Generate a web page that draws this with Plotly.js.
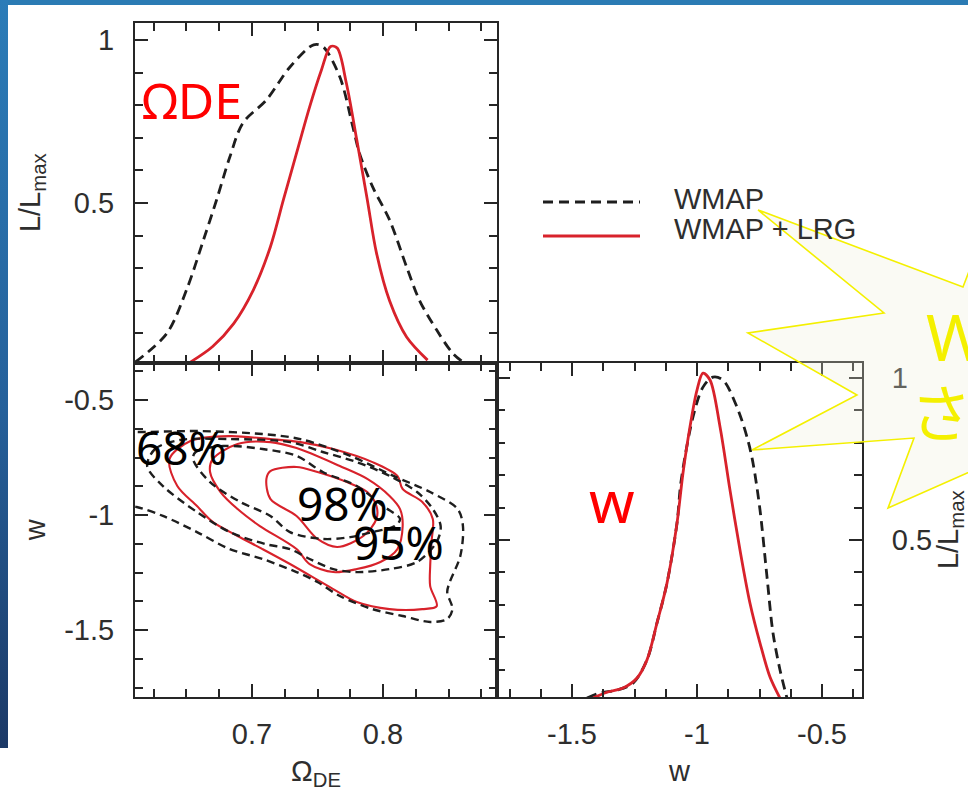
<!DOCTYPE html>
<html>
<head>
<meta charset="utf-8">
<script src="https://cdn.plot.ly/plotly-3.0.1.min.js"></script>
<style>
  html, body { margin:0; padding:0; background:#ffffff; }
  #wrap { position:relative; width:968px; height:796px; overflow:hidden; background:#ffffff; }
  #topbar { position:absolute; left:0; top:0; width:968px; height:5px; background:#2b7bb4; }
  #leftbar { position:absolute; left:0; top:0; width:8px; height:748px;
             background:linear-gradient(to bottom, #2b7cb8 0%, #25609a 55%, #1c3966 100%); }
  #chart { position:absolute; left:0; top:0; width:968px; height:796px; }
</style>
</head>
<body>
<div id="wrap">
  <div id="topbar"></div>
  <div id="leftbar"></div>
  <div id="chart"></div>
</div>
<script>
// ---------- data ----------
// marginal likelihood of Omega_DE
const omegaWMAP_x = [0.611, 0.635, 0.650, 0.663, 0.673, 0.683, 0.693, 0.711, 0.729, 0.747, 0.754, 0.767, 0.777, 0.782, 0.792, 0.805, 0.818, 0.828, 0.841, 0.853, 0.861];
const omegaWMAP_L = [0.012, 0.100, 0.233, 0.387, 0.510, 0.640, 0.745, 0.816, 0.917, 0.985, 0.980, 0.887, 0.733, 0.653, 0.550, 0.448, 0.304, 0.200, 0.110, 0.040, 0.012];
const omegaLRG_x  = [0.653, 0.670, 0.686, 0.701, 0.714, 0.724, 0.734, 0.744, 0.753, 0.760, 0.765, 0.772, 0.780, 0.788, 0.795, 0.805, 0.818, 0.834];
const omegaLRG_L  = [0.012, 0.060, 0.130, 0.233, 0.365, 0.510, 0.653, 0.795, 0.908, 0.980, 0.975, 0.868, 0.693, 0.510, 0.347, 0.200, 0.089, 0.018];

// marginal likelihood of w
const wWMAP_x = [-1.440, -1.388, -1.320, -1.256, -1.200, -1.160, -1.120, -1.080, -1.064, -1.016, -0.976, -0.936, -0.896, -0.840, -0.800, -0.776, -0.748, -0.720, -0.696, -0.668, -0.640];
const wWMAP_L = [0.012, 0.028, 0.037, 0.058, 0.130, 0.244, 0.367, 0.552, 0.680, 0.880, 0.972, 1.003, 0.994, 0.910, 0.818, 0.738, 0.593, 0.386, 0.213, 0.099, 0.012];
const wLRG_x  = [-1.416, -1.360, -1.296, -1.240, -1.200, -1.160, -1.120, -1.080, -1.056, -1.028, -1.000, -0.976, -0.948, -0.908, -0.868, -0.828, -0.788, -0.748, -0.708, -0.668];
const wLRG_L  = [0.012, 0.030, 0.043, 0.074, 0.130, 0.244, 0.367, 0.552, 0.707, 0.850, 0.963, 1.015, 0.994, 0.850, 0.654, 0.469, 0.305, 0.182, 0.077, 0.012];

// 2-D contours in the (Omega_DE, w) plane, WMAP (dashed)
const wmapOuter_om = [0.603, 0.612, 0.658, 0.708, 0.737, 0.775, 0.808, 0.836, 0.857, 0.861, 0.859, 0.851, 0.849, 0.853, 0.849, 0.836, 0.815, 0.792, 0.767, 0.750, 0.734, 0.708, 0.683, 0.658, 0.632, 0.612, 0.603];
const wmapOuter_w  = [-0.635, -0.639, -0.635, -0.648, -0.670, -0.743, -0.830, -0.900, -0.974, -1.048, -1.178, -1.291, -1.335, -1.409, -1.452, -1.465, -1.439, -1.409, -1.352, -1.291, -1.248, -1.191, -1.148, -1.074, -1.004, -0.965, -0.957];
const wmapMid_om = [0.620, 0.626, 0.645, 0.683, 0.729, 0.754, 0.780, 0.805, 0.826, 0.838, 0.844, 0.841, 0.826, 0.805, 0.780, 0.762, 0.744, 0.729, 0.710, 0.683, 0.658, 0.632, 0.620];
const wmapMid_w  = [-0.787, -0.713, -0.674, -0.670, -0.683, -0.726, -0.770, -0.830, -0.900, -0.974, -1.048, -1.117, -1.204, -1.235, -1.248, -1.235, -1.191, -1.148, -1.126, -1.074, -0.987, -0.874, -0.787];
const wmapIn_om = [0.655, 0.657, 0.678, 0.708, 0.734, 0.754, 0.780, 0.800, 0.813, 0.809, 0.792, 0.775, 0.754, 0.729, 0.714, 0.691, 0.668, 0.655];
const wmapIn_w  = [-0.757, -0.726, -0.700, -0.713, -0.743, -0.813, -0.874, -0.961, -1.017, -1.048, -1.074, -1.096, -1.104, -1.074, -1.004, -0.943, -0.857, -0.757];

// 2-D contours, WMAP + LRG (solid)
const lrgOuter_om = [0.637, 0.653, 0.683, 0.714, 0.737, 0.762, 0.792, 0.811, 0.815, 0.830, 0.838, 0.837, 0.836, 0.836, 0.841, 0.830, 0.805, 0.780, 0.762, 0.729, 0.708, 0.689, 0.670, 0.658, 0.643, 0.637];
const lrgOuter_w  = [-0.757, -0.678, -0.657, -0.670, -0.683, -0.713, -0.770, -0.830, -0.887, -0.943, -1.017, -1.117, -1.222, -1.309, -1.396, -1.409, -1.409, -1.378, -1.322, -1.213, -1.148, -1.091, -1.030, -0.961, -0.874, -0.757];
const lrgMid_om = [0.668, 0.670, 0.689, 0.714, 0.734, 0.767, 0.788, 0.805, 0.813, 0.815, 0.811, 0.798, 0.780, 0.762, 0.744, 0.734, 0.706, 0.689, 0.676, 0.668];
const lrgMid_w  = [-0.813, -0.757, -0.691, -0.683, -0.709, -0.787, -0.843, -0.917, -0.974, -1.048, -1.148, -1.204, -1.235, -1.248, -1.213, -1.148, -1.048, -0.974, -0.900, -0.813];
const lrgIn_om = [0.711, 0.714, 0.734, 0.750, 0.7725, 0.788, 0.795, 0.795, 0.785, 0.765, 0.750, 0.734, 0.714, 0.711];
const lrgIn_w  = [-0.843, -0.809, -0.791, -0.813, -0.857, -0.900, -0.961, -1.017, -1.091, -1.139, -1.104, -1.004, -0.930, -0.843];

// tick labels and tick positions
const omegaTicks = [0.7, 0.8];
const omegaTickText = ['0.7', '0.8'];
const omegaMinor = [0.625, 0.65, 0.675, 0.725, 0.75, 0.775, 0.825, 0.85, 0.875];
const wTicks = [-1.5, -1, -0.5];
const wTickText = ['-1.5', '-1', '-0.5'];
const wMinor = [-1.75, -1.625, -1.375, -1.25, -1.125, -0.875, -0.75, -0.625, -0.375];
const likeTicks = [0.5, 1];
const likeTickText = ['0.5', '1'];
const likeMinor = [0.1, 0.2, 0.3, 0.4, 0.6, 0.7, 0.8, 0.9];

const seriesNames = ['WMAP', 'WMAP + LRG'];
const contourLabels = ['68%', '98%', '95%'];

// ---------- styles ----------
const RED = '#d8222b';
const BLACK = '#1e1e1e';
const dashBig = '10px,6px';
const dashSmall = '8px,5px';
const FONT = 'Liberation Sans, Arial, sans-serif';
const TXT = '#2e2e2e';
const AX = '#262626';

function marg(x, y, xa, ya, name, dashed) {
  return { x: x, y: y, xaxis: xa, yaxis: ya, name: name, type: 'scatter', mode: 'lines',
    line: { color: dashed ? BLACK : RED, width: 2.8, dash: dashed ? dashBig : 'solid', shape: 'spline', smoothing: 0.9 },
    hoverinfo: 'skip', showlegend: false };
}
function cont(x, y, name, dashed) {
  return { x: x, y: y, xaxis: 'x2', yaxis: 'y2', name: name, type: 'scatter', mode: 'lines',
    line: { color: dashed ? BLACK : RED, width: dashed ? 2.4 : 2.1, dash: dashed ? dashSmall : 'solid', shape: 'spline', smoothing: 0.9 },
    hoverinfo: 'skip', showlegend: false };
}

const traces = [
  marg(omegaWMAP_x, omegaWMAP_L, 'x', 'y', seriesNames[0], true),
  marg(omegaLRG_x, omegaLRG_L, 'x', 'y', seriesNames[1], false),
  marg(wWMAP_x, wWMAP_L, 'x3', 'y3', seriesNames[0], true),
  marg(wLRG_x, wLRG_L, 'x3', 'y3', seriesNames[1], false),
  cont(lrgOuter_om, lrgOuter_w, seriesNames[1], false),
  cont(lrgMid_om, lrgMid_w, seriesNames[1], false),
  cont(lrgIn_om, lrgIn_w, seriesNames[1], false),
  cont(wmapOuter_om, wmapOuter_w, seriesNames[0], true),
  cont(wmapMid_om, wmapMid_w, seriesNames[0], true),
  cont(wmapIn_om, wmapIn_w, seriesNames[0], true)
];

const W = 968, H = 796;
const px = v => v / W;
const py = v => 1 - v / H;

function axis(extra) {
  return Object.assign({
    showline: true, linecolor: AX, linewidth: 2, mirror: 'allticks',
    ticks: 'inside', ticklen: 13, tickwidth: 2, tickcolor: AX,
    showgrid: false, zeroline: false, fixedrange: true,
    tickfont: { family: FONT, size: 29, color: TXT }
  }, extra);
}
const minorTicks = vals => ({ tickmode: 'array', tickvals: vals, ticks: 'inside', ticklen: 8, tickwidth: 2, tickcolor: AX, showgrid: false });
const ttl = (text, standoff) => ({ text: text, standoff: standoff, font: { size: 29, family: FONT, color: TXT } });

const domL = [px(135), px(497)], domR = [px(497), px(862)];
const domTop = [py(362.5), py(23)], domBot = [py(697), py(362.5)];
const rOmega = [0.6107, 0.887], rW = [-1.8, -0.34], rW2 = [-1.791, -0.337];
const rLikeTop = [0.0107, 1.052], rLikeBot = [0.0154, 1.048];

const layout = {
  width: W, height: H,
  margin: { l: 0, r: 0, t: 0, b: 0, pad: 0 },
  paper_bgcolor: 'rgba(0,0,0,0)', plot_bgcolor: 'rgba(0,0,0,0)',
  showlegend: false,
  font: { family: FONT, size: 29, color: TXT },
  xaxis: axis({ domain: domL, anchor: 'y', range: rOmega,
    tickmode: 'array', tickvals: omegaTicks, ticktext: omegaTickText, showticklabels: false, minor: minorTicks(omegaMinor) }),
  yaxis: axis({ domain: domTop, anchor: 'x', range: rLikeTop,
    tickmode: 'array', tickvals: likeTicks, ticktext: likeTickText, ticklabelstandoff: 13, minor: minorTicks(likeMinor),
    title: ttl('L/L<sub>max</sub>', 25) }),
  xaxis2: axis({ domain: domL, anchor: 'y2', range: rOmega,
    tickmode: 'array', tickvals: omegaTicks, ticktext: omegaTickText, ticklabelstandoff: 10, minor: minorTicks(omegaMinor),
    title: ttl('Ω<sub>DE</sub>', 12) }),
  yaxis2: axis({ domain: domBot, anchor: 'x2', range: rW2,
    tickmode: 'array', tickvals: wTicks, ticktext: wTickText, ticklabelstandoff: 13, minor: minorTicks(wMinor),
    title: ttl('w', 10) }),
  xaxis3: axis({ domain: domR, anchor: 'y3', range: rW,
    tickmode: 'array', tickvals: wTicks, ticktext: wTickText, ticklabelstandoff: 10, minor: minorTicks(wMinor),
    title: ttl('w', 12) }),
  yaxis3: axis({ domain: domBot, anchor: 'x3', side: 'right', range: rLikeBot,
    tickmode: 'array', tickvals: likeTicks, ticktext: likeTickText, ticklabelstandoff: 22, minor: minorTicks(likeMinor),
    title: ttl('L/L<sub>max</sub>', 14) }),
  shapes: [
    // legend keys
    { type: 'line', xref: 'paper', yref: 'paper', x0: px(543), x1: px(640), y0: py(202), y1: py(202),
      line: { color: BLACK, width: 2.8, dash: dashBig } },
    { type: 'line', xref: 'paper', yref: 'paper', x0: px(543), x1: px(640), y0: py(236), y1: py(236),
      line: { color: RED, width: 2.8 } },
    // yellow call-out star
    { type: 'path', xref: 'paper', yref: 'paper', layer: 'above',
      path: 'M ' + [[990,240],[975,256],[963,287],[758,210],[884,313],[748,333],[857,395],[752,450],[914,438],[888,508],[990,463]]
              .map(p => px(p[0]).toFixed(4) + ',' + py(p[1]).toFixed(4)).join(' L ') + ' Z',
      fillcolor: 'rgba(238,238,215,0.28)', line: { color: '#f4f000', width: 1.6 } }
  ],
  annotations: [
    { xref: 'paper', yref: 'paper', x: px(672), y: py(199), xanchor: 'left', yanchor: 'middle', showarrow: false,
      text: seriesNames[0], font: { size: 29, color: TXT, family: FONT } },
    { xref: 'paper', yref: 'paper', x: px(672), y: py(229), xanchor: 'left', yanchor: 'middle', showarrow: false,
      text: seriesNames[1], font: { size: 29, color: TXT, family: FONT } },
    // red slide labels
    { xref: 'paper', yref: 'paper', x: px(140), y: py(100), xanchor: 'left', yanchor: 'middle', showarrow: false,
      text: 'ΩDE', font: { size: 50, color: '#ff0000', family: 'Noto Sans, sans-serif' } },
    { xref: 'paper', yref: 'paper', x: px(612), y: py(500), xanchor: 'center', yanchor: 'middle', showarrow: false,
      text: 'w', font: { size: 58, color: '#ff0000', family: 'Noto Sans, sans-serif' } },
    // contour level labels
    { xref: 'paper', yref: 'paper', x: px(134), y: py(447), xanchor: 'left', yanchor: 'middle', showarrow: false,
      text: contourLabels[0], font: { size: 46, color: '#000000', family: 'Noto Sans, sans-serif' } },
    { xref: 'paper', yref: 'paper', x: px(295), y: py(503), xanchor: 'left', yanchor: 'middle', showarrow: false,
      text: contourLabels[1], font: { size: 46, color: '#000000', family: 'Noto Sans, sans-serif' } },
    { xref: 'paper', yref: 'paper', x: px(351), y: py(542), xanchor: 'left', yanchor: 'middle', showarrow: false,
      text: contourLabels[2], font: { size: 46, color: '#000000', family: 'Noto Sans, sans-serif' } },
    // yellow call-out text (cut by the slide edge)
    { xref: 'paper', yref: 'paper', x: px(924), y: py(336), xanchor: 'left', yanchor: 'middle', showarrow: false,
      text: 'WMAP', font: { size: 64, color: '#f4f000', family: 'Noto Sans, sans-serif' } },
    { xref: 'paper', yref: 'paper', x: px(908), y: py(410), xanchor: 'left', yanchor: 'middle', showarrow: false,
      text: 'されて', font: { size: 62, color: '#f4f000', family: 'Noto Sans CJK JP, sans-serif' } }
  ]
};

Plotly.newPlot('chart', traces, layout, { staticPlot: true, displayModeBar: false });
</script>
</body>
</html>
